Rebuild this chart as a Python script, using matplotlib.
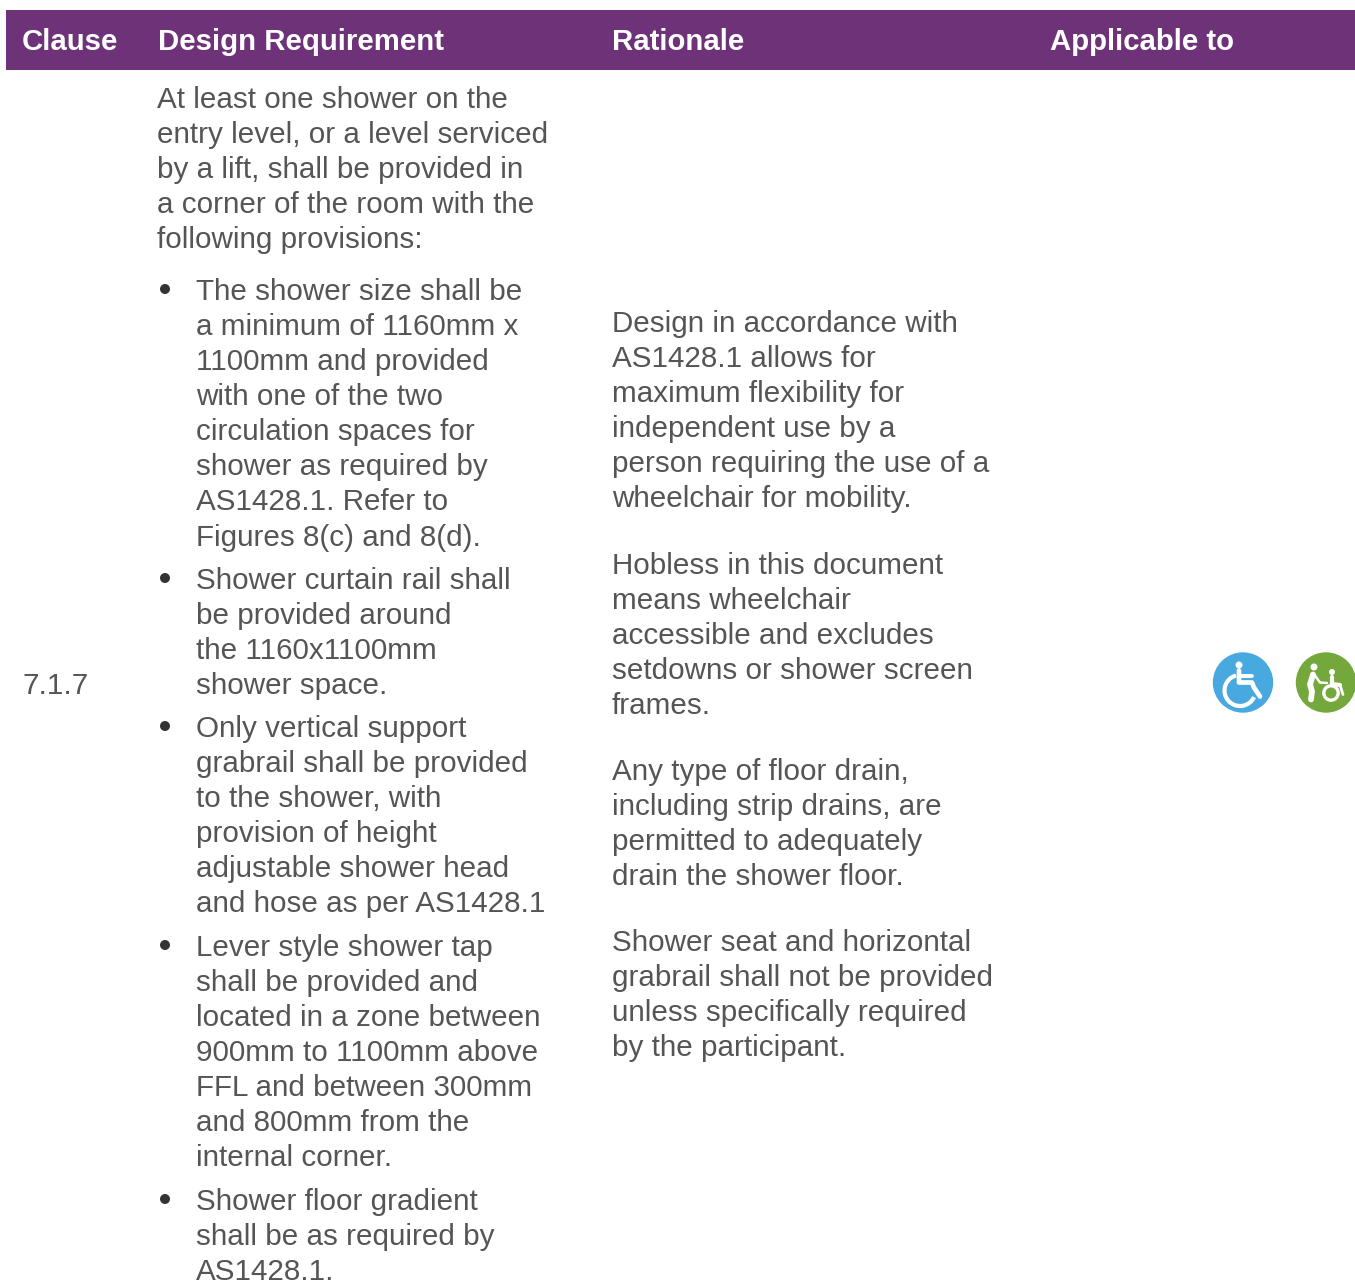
import matplotlib
matplotlib.use("Agg")
import matplotlib.pyplot as plt
from matplotlib.patches import Rectangle, Circle, Arc

headers = ["Clause", "Design Requirement", "Rationale", "Applicable to"]
clause = "7.1.7"
intro = ["At least one shower on the", "entry level, or a level serviced", "by a lift, shall be provided in",
         "a corner of the room with the", "following provisions:"]
bullet1 = ["The shower size shall be", "a minimum of 1160mm x", "1100mm and provided", "with one of the two",
           "circulation spaces for", "shower as required by", "AS1428.1. Refer to", "Figures 8(c) and 8(d)."]
bullet2 = ["Shower curtain rail shall", "be provided around", "the 1160x1100mm", "shower space."]
bullet3 = ["Only vertical support", "grabrail shall be provided", "to the shower, with", "provision of height",
           "adjustable shower head", "and hose as per AS1428.1"]
bullet4 = ["Lever style shower tap", "shall be provided and", "located in a zone between", "900mm to 1100mm above",
           "FFL and between 300mm", "and 800mm from the", "internal corner."]
bullet5 = ["Shower floor gradient", "shall be as required by", "AS1428.1."]
rat1 = ["Design in accordance with", "AS1428.1 allows for", "maximum flexibility for", "independent use by a",
        "person requiring the use of a", "wheelchair for mobility."]
rat2 = ["Hobless in this document", "means wheelchair", "accessible and excludes", "setdowns or shower screen", "frames."]
rat3 = ["Any type of floor drain,", "including strip drains, are", "permitted to adequately", "drain the shower floor."]
rat4 = ["Shower seat and horizontal", "grabrail shall not be provided", "unless specifically required", "by the participant."]

W, H = 1355, 1288
PURPLE = "#6e3278"
TXT = "#555555"
FS = 21.3
PITCH = 35.15

fig = plt.figure(figsize=(W / 100, H / 100), dpi=100)
ax = fig.add_axes([0, 0, 1, 1])
ax.set_xlim(0, W)
ax.set_ylim(H, 0)
ax.axis("off")
plt.rcParams["font.family"] = ["Liberation Sans", "DejaVu Sans"]

ax.add_patch(Rectangle((6, 10), W - 6, 60, fc=PURPLE, ec="none"))
for t, x in zip(headers, [22, 158, 612, 1050]):
    ax.text(x, 41.5, t, color="white", fontsize=21.15, fontweight="bold", va="center", ha="left")


def block(lines, x, y):
    for i, s in enumerate(lines):
        ax.text(x, y + i * PITCH, s, color=TXT, fontsize=FS, va="center_baseline", ha="left")


ax.text(22, 683, clause, color=TXT, fontsize=FS, va="center_baseline")
block(intro, 157, 96.5)
for lines, y in [(bullet1, 288.5), (bullet2, 577.5), (bullet3, 725.5), (bullet4, 944.5), (bullet5, 1198.5)]:
    ax.add_patch(Circle((165, y + 0.5), 5, fc="#333333", ec="none"))
    block(lines, 196, y)
for lines, y in [(rat1, 320.5), (rat2, 562.5), (rat3, 768.5), (rat4, 939.5)]:
    block(lines, 612, y)

# Wheelchair icon
cx, cy = 1243, 682.5
ax.add_patch(Circle((cx, cy), 30.2, fc="#47a9df", ec="none"))
ax.add_patch(Circle((cx - 4, cy - 17.5), 3.5, fc="white", ec="none"))
ax.add_patch(Arc((cx - 3, cy + 8), 31, 31, theta1=25, theta2=255, ec="white", lw=3))
ax.plot([cx - 4, cx - 4, cx + 9, cx + 11, cx + 17], [cy - 12, cy, cy, cy + 5, cy + 14],
        color="white", lw=3.4, solid_capstyle="round", solid_joinstyle="round")
ax.plot([cx - 4, cx + 9], [cy - 6.5, cy - 6.5], color="white", lw=2.8, solid_capstyle="round")

# Assisted wheelchair icon
cx, cy = 1326, 682.5
ax.add_patch(Circle((cx, cy), 30.2, fc="#75a83c", ec="none"))
ax.add_patch(Circle((cx - 12, cy - 15.5), 3.5, fc="white", ec="none"))
ax.plot([cx - 13, cx - 16, cx - 14, cx - 15], [cy - 8, cy + 2, cy + 9, cy + 17], color="white", lw=4.2,
        solid_capstyle="round", solid_joinstyle="round")
ax.plot([cx - 11, cx - 6, cx + 1], [cy - 7, cy, cy + 0.5], color="white", lw=1.8, solid_capstyle="round")
ax.add_patch(Circle((cx + 6, cy - 10.5), 3, fc="white", ec="none"))
ax.plot([cx + 6, cx + 6, cx + 14], [cy - 5.5, cy + 1.5, cy + 2.5], color="white", lw=3, solid_capstyle="round",
        solid_joinstyle="round")
ax.plot([cx + 14, cx + 17], [cy + 2.5, cy + 12], color="white", lw=2, solid_capstyle="round")
ax.add_patch(Circle((cx + 5, cy + 10.5), 7.2, fc="none", ec="white", lw=2.4))

fig.savefig("out.png", dpi=100, facecolor="white")
